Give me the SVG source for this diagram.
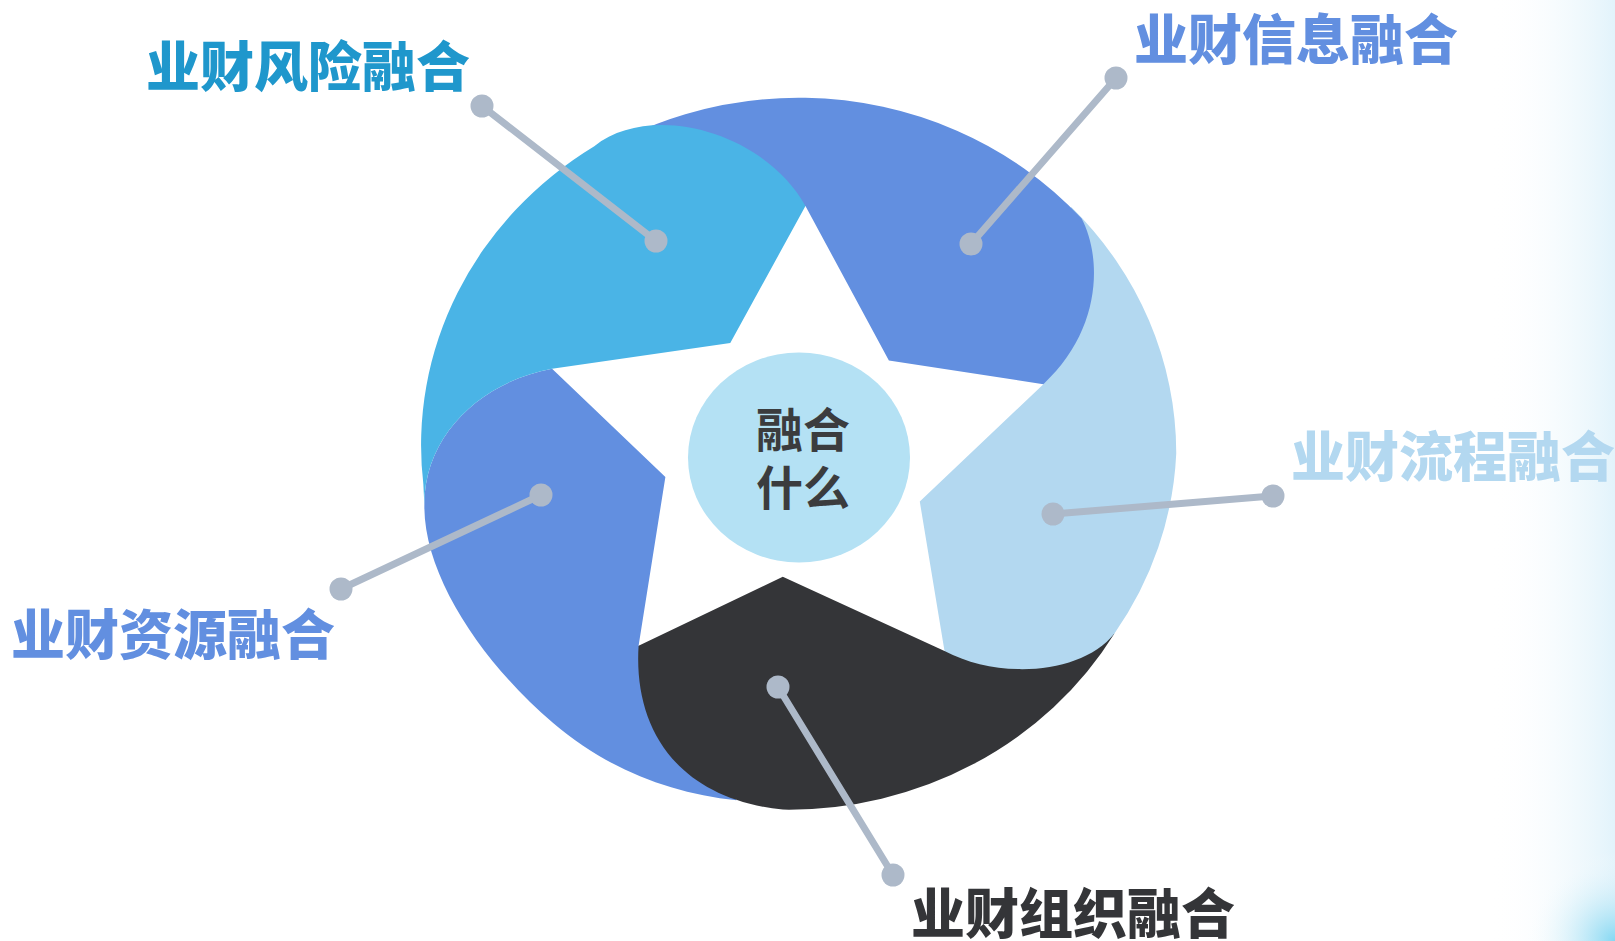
<svg xmlns="http://www.w3.org/2000/svg" width="1615" height="941" viewBox="0 0 1615 941">
  <defs>
    <linearGradient id="edgeGlow" x1="0" y1="0" x2="1" y2="0">
      <stop offset="0" stop-color="#ffffff" stop-opacity="0"/>
      <stop offset="1" stop-color="#e2f3fb" stop-opacity="1"/>
    </linearGradient>
    <radialGradient id="cornerGlow" cx="1615" cy="941" r="90" gradientUnits="userSpaceOnUse">
      <stop offset="0" stop-color="#7fd6f2" stop-opacity="0.95"/>
      <stop offset="0.5" stop-color="#bfe9f7" stop-opacity="0.45"/>
      <stop offset="1" stop-color="#ffffff" stop-opacity="0"/>
    </radialGradient>
    <style>
      .lbl { font-family: "Noto Sans CJK SC", "Noto Sans", sans-serif; font-weight: 900; font-size: 54px; }
      .ctr { font-family: "Noto Sans CJK SC", "Noto Sans", sans-serif; font-weight: 700; font-size: 47px; fill: #3b3c3e; text-anchor: middle; }
      .conn line { stroke: #adb9c9; stroke-width: 7; stroke-linecap: round; }
      .conn circle { fill: #adb9c9; }
    </style>
  </defs>

  <rect x="0" y="0" width="1615" height="941" fill="#ffffff"/>
  <rect x="1490" y="0" width="125" height="941" fill="url(#edgeGlow)"/>
  <rect x="1500" y="820" width="115" height="121" fill="url(#cornerGlow)"/>

  <g id="ring" transform="scale(1.03)">
    <g id="node-resource">
      <path fill="#628fe0" d="M 620,627 L 646,463 L 536,358 C 470,370 412,420 412,490 C 411,560 470,645 537,702 C 590,747 650,770 715,777 L 620,627 Z"/>
    </g>
    <g id="node-organization">
      <path fill="#343538" d="M 917,632 L 760,560 L 620,627 C 615,705 655,775 760,786 A 366 345 0 0 0 1082,615 L 1040,628 L 917,632 Z"/>
    </g>
    <g id="node-process">
      <path fill="#b3d8f0" d="M 1013,373 L 893,487 L 917,632 C 970,660 1050,655 1082,615 A 366 345 0 0 0 1142,440 A 366 345 0 0 0 1040,201 L 1013,373 Z"/>
    </g>
    <g id="node-information">
      <path fill="#628fe0" d="M 782,200 L 863,350 L 1013,373 C 1070,320 1070,250 1050,212 A 366 345 0 0 0 782,95 A 366 345 0 0 0 560,161 L 782,200 Z"/>
    </g>
    <g id="node-risk">
      <path fill="#4ab4e6" d="M 536,358 L 709,333 L 782,200 C 742,128 632,98 577,142 A 366 345 0 0 0 411,470 L 412,490 C 412,420 470,370 536,358 Z"/>
    </g>
  </g>

  <g id="node-center">
    <ellipse cx="799" cy="457.5" rx="111" ry="105" fill="#b4e1f4"/>
    <text class="ctr" x="803" y="447">融合</text>
    <text class="ctr" x="803" y="505">什么</text>
  </g>

  <g id="connectors" class="conn">
    <line x1="482" y1="106" x2="656" y2="241"/>
    <circle cx="482" cy="106" r="11.5"/>
    <circle cx="656" cy="241" r="11.5"/>

    <line x1="1116" y1="78" x2="971" y2="244"/>
    <circle cx="1116" cy="78" r="11.5"/>
    <circle cx="971" cy="244" r="11.5"/>

    <line x1="1273" y1="496" x2="1053" y2="514"/>
    <circle cx="1273" cy="496" r="11.5"/>
    <circle cx="1053" cy="514" r="11.5"/>

    <line x1="341" y1="589" x2="541" y2="495"/>
    <circle cx="341" cy="589" r="11.5"/>
    <circle cx="541" cy="495" r="11.5"/>

    <line x1="778" y1="687" x2="893" y2="875"/>
    <circle cx="778" cy="687" r="11.5"/>
    <circle cx="893" cy="875" r="11.5"/>
  </g>

  <g id="label-risk"><text class="lbl" x="146" y="87" fill="#1f97cc">业财风险融合</text></g>
  <g id="label-information"><text class="lbl" x="1134" y="60" fill="#628fe0">业财信息融合</text></g>
  <g id="label-process"><text class="lbl" x="1291" y="477" fill="#b3d8f0">业财流程融合</text></g>
  <g id="label-resource"><text class="lbl" x="11" y="655" fill="#628fe0">业财资源融合</text></g>
  <g id="label-organization"><text class="lbl" x="911" y="934" fill="#343538">业财组织融合</text></g>
</svg>
